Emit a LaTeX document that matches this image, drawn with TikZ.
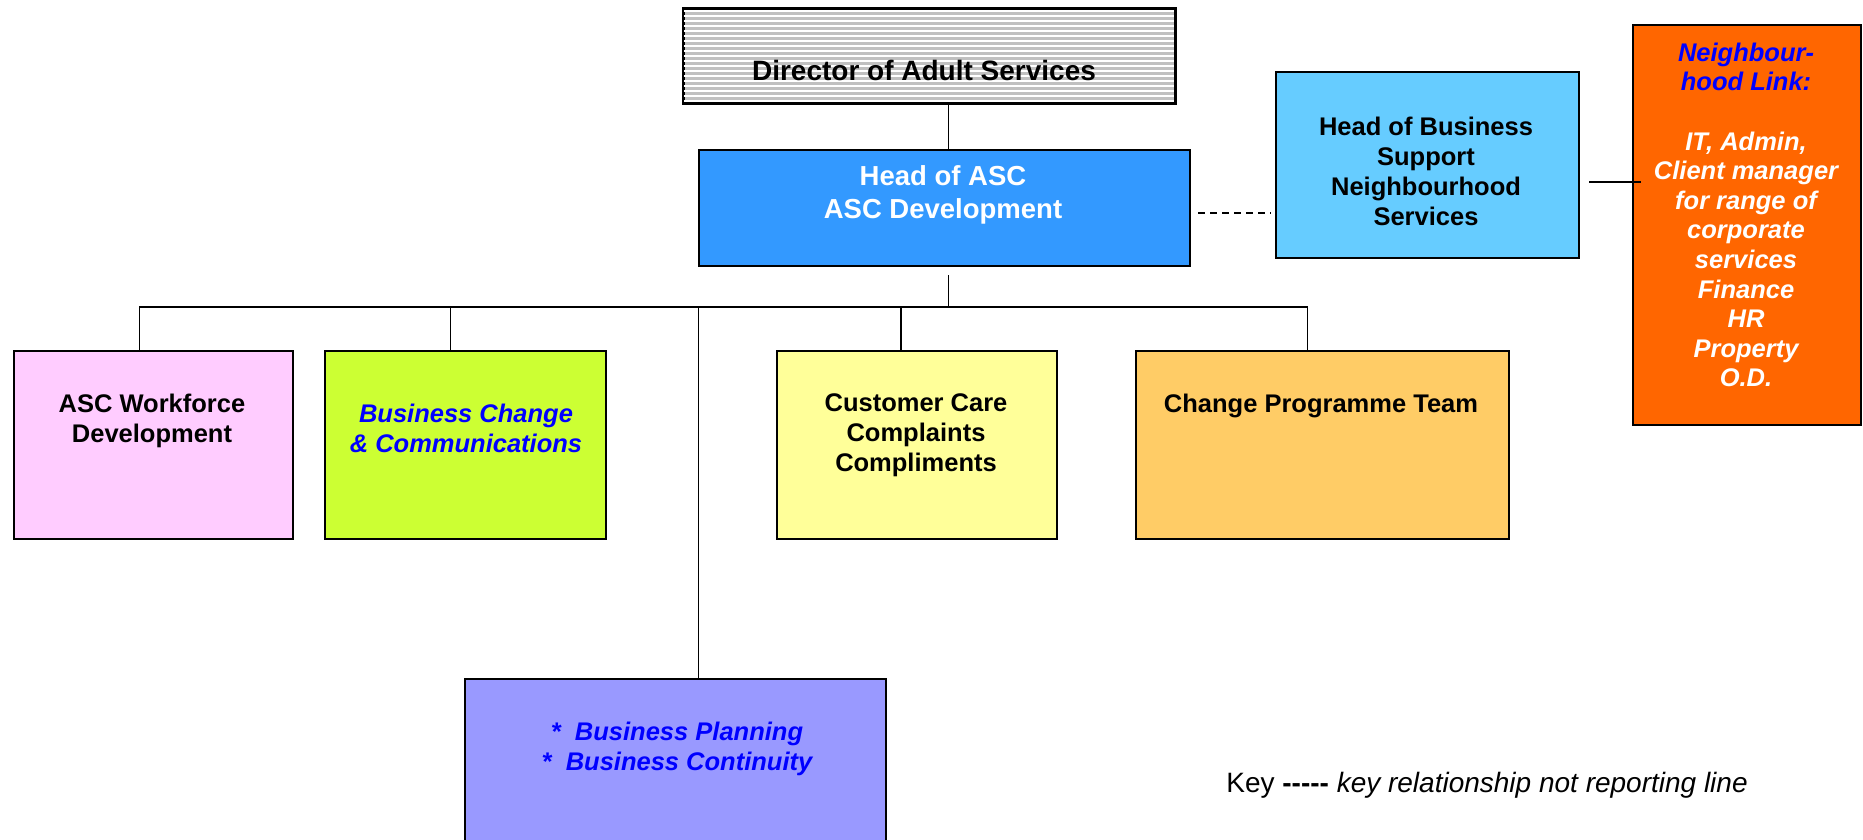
\documentclass[tikz,border=0pt]{standalone}
\usepackage{fontspec}
\setmainfont{Liberation Sans}
\usetikzlibrary{calc}
\definecolor{dirgray}{RGB}{192,192,192}
\definecolor{hascblue}{HTML}{3399FF}
\definecolor{hbsblue}{HTML}{66CCFF}
\definecolor{orangebox}{HTML}{FF6600}
\definecolor{pinkbox}{HTML}{FFCCFF}
\definecolor{limebox}{HTML}{CCFF33}
\definecolor{yellowbox}{HTML}{FFFF99}
\definecolor{peachbox}{HTML}{FFCC66}
\definecolor{lilacbox}{HTML}{9999FF}
\definecolor{txtblue}{HTML}{0000FF}
\tikzset{
  box/.style={draw=black, line width=2pt, rectangle, inner sep=0pt, anchor=north west},
  conn/.style={line width=1.8pt},
  lbl/.style={align=center, inner sep=0pt, font=\bfseries\fontsize{25.5}{30}\selectfont},
  blu/.style={text=txtblue, font=\bfseries\itshape\fontsize{25.5}{30}\selectfont}
}
\begin{document}
\begin{tikzpicture}[x=1pt,y=-1pt]
\useasboundingbox (0,0) rectangle (1863,840);
\clip (0,0) rectangle (1863,840);
% boxes
\node[box, fill=dirgray, minimum width=491pt, minimum height=94pt] (dir) at (683,8) {};
\begin{scope}
  \clip (dir.south west) rectangle (dir.north east);
  \foreach \k in {0,...,19} \draw[white, line width=1.1pt] ($(dir.north west)+(0,3+\k*5)$) -- ++(491,0);
\end{scope}
\draw[line width=2pt] (dir.south west) rectangle (dir.north east);
\node[box, fill=hascblue, minimum width=491pt, minimum height=116pt] (hasc) at (698,149) {};
\node[box, fill=hbsblue, minimum width=303pt, minimum height=186pt] (hbs) at (1275,71) {};
\node[box, fill=orangebox, minimum width=228pt, minimum height=400pt] (nl) at (1632,24) {};
\node[box, fill=pinkbox, minimum width=279pt, minimum height=188pt] (wf) at (13,350) {};
\node[box, fill=limebox, minimum width=281pt, minimum height=188pt] (bcc) at (324,350) {};
\node[box, fill=yellowbox, minimum width=280pt, minimum height=188pt] (cc) at (776,350) {};
\node[box, fill=peachbox, minimum width=373pt, minimum height=188pt] (cpt) at (1135,350) {};
\node[box, fill=lilacbox, minimum width=421pt, minimum height=200pt] (bp) at (464,678) {};
% texts
\node[lbl, font=\bfseries\fontsize{28}{33}\selectfont] (tdir) at (924,70) {Director of Adult Services};
\node[lbl, text=white, font=\bfseries\fontsize{27.5}{33}\selectfont] (thasc) at (943,195) {Head of ASC\\ASC Development};
\node[lbl] (thbs) at (1426,171) {Head of Business\\Support\\Neighbourhood\\Services};
\node[lbl, text=white, font=\bfseries\itshape\fontsize{25.5}{29.6}\selectfont] (tnl) at (1746,215) {\textcolor{txtblue}{Neighbour-}\\\textcolor{txtblue}{hood Link:}\\[29.6pt]IT, Admin,\\Client manager\\for range of\\corporate\\services\\Finance\\HR\\Property\\O.D.};
\node[lbl] (twf) at (152,421) {ASC Workforce\\Development};
\node[lbl, blu] (tbcc) at (466,428) {Business Change\\\& Communications};
\node[lbl] (tcc) at (916,435) {Customer Care\\Complaints\\Compliments};
\node[lbl] (tcpt) at (1321,406) {Change Programme Team};
\node[lbl, blu] (tbp) at (677,749) {*\ \ Business Planning\\*\ \ Business Continuity};
\node[inner sep=0pt, font=\fontsize{28}{33}\selectfont] (key) at (1487,785) {Key \textbf{-{}-{}-{}-{}-} \textit{key relationship not reporting line}};
% connectors
\draw[conn] ([xshift=4pt]hasc.north) -- ([xshift=4pt]hasc.north |- dir.south);
\coordinate (bus) at ([shift={(4pt,-40pt)}]hasc.south);
\draw[conn] ([shift={(4pt,-8pt)}]hasc.south) -- (bus);
\draw[conn] ([xshift=-14pt]wf.north) |- ([xshift=-15pt]cpt.north |- bus) -- ([xshift=-15pt]cpt.north);
\draw[conn] ([xshift=-15pt]bcc.north) -- ([xshift=-15pt]bcc.north |- bus);
\draw[conn] ([xshift=-16pt]cc.north) -- ([xshift=-16pt]cc.north |- bus);
\draw[conn] ([xshift=23pt]bp.north) -- ([xshift=23pt]bp.north |- bus);
\draw[conn, dash pattern=on 7pt off 5pt] ([shift={(7pt,-5pt)}]hasc.east) -- ([shift={(-4pt,-5pt)}]hasc.east -| hbs.west);
\draw[conn] ([shift={(9pt,-17pt)}]hbs.east) -- ([shift={(9pt,-17pt)}]hbs.east -| nl.west);
\end{tikzpicture}
\end{document}
